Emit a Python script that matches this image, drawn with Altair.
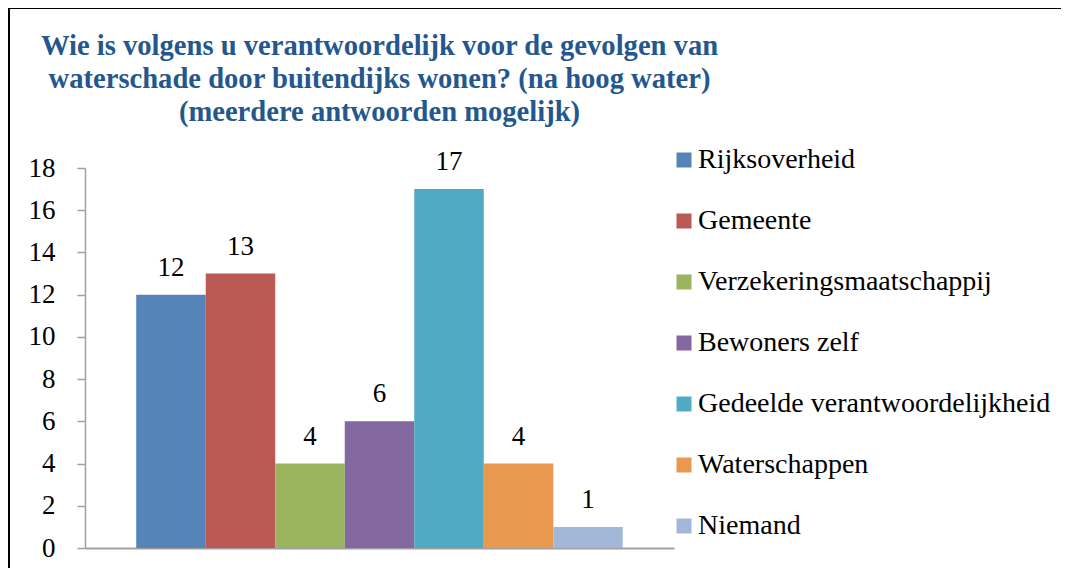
import altair as alt
import pandas as pd

categories = [
    "Rijksoverheid",
    "Gemeente",
    "Verzekeringsmaatschappij",
    "Bewoners zelf",
    "Gedeelde verantwoordelijkheid",
    "Waterschappen",
    "Niemand",
]
values = [12, 13, 4, 6, 17, 4, 1]
colors = ["#5484B8", "#BB5955", "#9BB55E", "#8468A0", "#4FAAC2", "#E9984F", "#A3B8D9"]
y_ticks = [0, 2, 4, 6, 8, 10, 12, 14, 16, 18]
title_lines = [
    "Wie is volgens u verantwoordelijk voor de gevolgen van",
    "waterschade door buitendijks wonen? (na hoog water)",
    "(meerdere antwoorden mogelijk)",
]

LABEL_FONT = "Liberation Serif"
TITLE_FONT = "Liberation Serif"

df = pd.DataFrame({"categorie": categories, "aantal": values})

W, H = 589, 380
PAD_L, PAD_T = 77, 160

x_enc = alt.X(
    "categorie:N",
    sort=categories,
    scale=alt.Scale(paddingInner=0, paddingOuter=0.737),
    axis=alt.Axis(labels=False, ticks=False, title=None, domainColor="#A0A0A0", domainWidth=2),
)

bars = alt.Chart(df).mark_bar().encode(
    x=x_enc,
    y=alt.Y(
        "aantal:Q",
        scale=alt.Scale(domain=[0, 18], nice=False),
        axis=alt.Axis(
            values=y_ticks,
            title=None,
            grid=False,
            tickSize=8,
            tickColor="#A0A0A0",
            tickWidth=1.5,
            domainColor="#A0A0A0",
            domainWidth=1.5,
            labelFont=LABEL_FONT,
            labelFontSize=27,
            labelColor="black",
            labelPadding=22,
        ),
    ),
    color=alt.Color(
        "categorie:N",
        sort=categories,
        scale=alt.Scale(domain=categories, range=colors),
        legend=alt.Legend(
            title=None,
            orient="none",
            legendX=585,
            legendY=-22,
            symbolType="square",
            symbolSize=225,
            symbolStrokeWidth=0,
            symbolOpacity=1,
            labelFont=LABEL_FONT,
            labelFontSize=28,
            labelColor="black",
            labelOffset=0,
            labelLimit=500,
            rowPadding=33,
            padding=0,
        ),
    ),
)

labels = alt.Chart(df).mark_text(
    baseline="alphabetic", dy=-19, font=LABEL_FONT, fontSize=27, color="black"
).encode(
    x=alt.X("categorie:N", sort=categories),
    y=alt.Y("aantal:Q"),
    text=alt.Text("aantal:Q"),
)

frame = alt.Chart(pd.DataFrame({"k": [0]})).mark_rect(
    fillOpacity=0, stroke="black", strokeWidth=2
).encode(
    x=alt.value(-76), x2=alt.value(1100), y=alt.value(-160), y2=alt.value(700)
)

chart = alt.layer(frame, bars, labels).properties(
    width=W,
    height=H,
    autosize=alt.AutoSizeParams(type="none"),
    padding={"left": PAD_L, "top": PAD_T, "right": 1053 - PAD_L - W, "bottom": 560 - PAD_T - H},
    title=alt.TitleParams(
        text=title_lines,
        font=TITLE_FONT,
        fontSize=28.6,
        fontWeight="bold",
        color="#23578E",
        anchor="middle",
        lineHeight=33,
        offset=40,
        dy=160,
    ),
).configure_view(strokeWidth=0)

chart.save("out.html", embed_options={"renderer": "svg", "actions": False})
